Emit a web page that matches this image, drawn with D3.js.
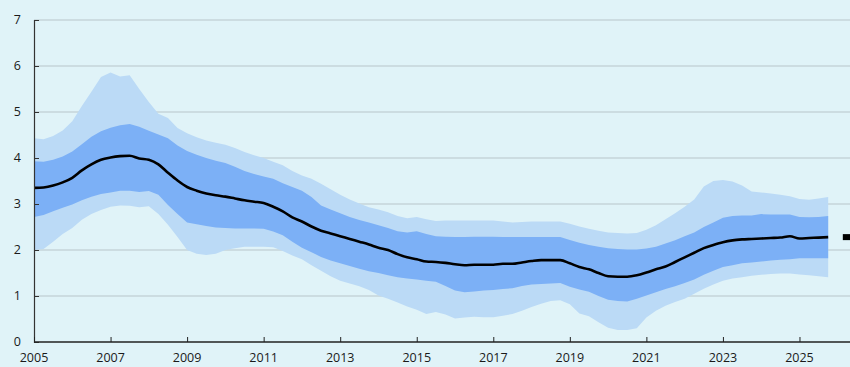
<!DOCTYPE html>
<html>
<head>
<meta charset="utf-8">
<script src="https://cdn.jsdelivr.net/npm/d3@7"></script>
<style>
  html, body { margin: 0; padding: 0; background: #e0f3f8; }
  svg { display: block; }
  text { font-family: "Open Sans", "Liberation Sans", sans-serif; font-size: 12.5px; fill: #1a1a1a; }
</style>
</head>
<body>
<svg id="chart" width="850" height="367"></svg>
<script>
// Quarterly observations, 2005Q1 .. 2025Q4
const years = d3.range(0, 84).map(i => 2005 + i * 0.25);

// Central projection
const median = [
  3.35, 3.36, 3.40, 3.47, 3.57, 3.73, 3.86, 3.96, 4.01, 4.04, 4.05, 3.99,
  3.96, 3.86, 3.68, 3.51, 3.37, 3.29, 3.23, 3.19, 3.16, 3.12, 3.08, 3.05,
  3.02, 2.94, 2.84, 2.71, 2.62, 2.51, 2.42, 2.36, 2.30, 2.24, 2.18, 2.12,
  2.05, 2.00, 1.91, 1.84, 1.80, 1.75, 1.74, 1.72, 1.69, 1.67, 1.68, 1.68,
  1.68, 1.70, 1.70, 1.73, 1.76, 1.78, 1.78, 1.78, 1.71, 1.63, 1.58, 1.50,
  1.43, 1.42, 1.42, 1.45, 1.51, 1.58, 1.64, 1.74, 1.84, 1.94, 2.04, 2.11,
  2.17, 2.21, 2.23, 2.24, 2.25, 2.26, 2.27, 2.30, 2.25, 2.26, 2.27, 2.28
];

// Inner band (darker blue)
const innerHigh = [
  3.93, 3.92, 3.96, 4.03, 4.14, 4.30, 4.46, 4.58, 4.66, 4.71, 4.74, 4.68,
  4.59, 4.51, 4.43, 4.27, 4.15, 4.07, 4.00, 3.94, 3.89, 3.81, 3.72, 3.65,
  3.60, 3.55, 3.45, 3.37, 3.29, 3.15, 2.97, 2.88, 2.80, 2.72, 2.65, 2.60,
  2.54, 2.48, 2.41, 2.38, 2.41, 2.35, 2.30, 2.29, 2.28, 2.28, 2.29, 2.29,
  2.29, 2.28, 2.28, 2.28, 2.28, 2.28, 2.28, 2.28, 2.22, 2.16, 2.11, 2.07,
  2.04, 2.02, 2.01, 2.01, 2.03, 2.07, 2.14, 2.21, 2.30, 2.38, 2.50, 2.60,
  2.70, 2.74, 2.75, 2.75, 2.78, 2.77, 2.77, 2.77, 2.72, 2.71, 2.72, 2.74
];
const innerLow = [
  2.72, 2.76, 2.84, 2.92, 2.99, 3.08, 3.16, 3.22, 3.25, 3.29, 3.29, 3.26,
  3.28, 3.20, 2.98, 2.78, 2.60, 2.56, 2.52, 2.49, 2.48, 2.47, 2.47, 2.47,
  2.46, 2.40, 2.32, 2.18, 2.05, 1.95, 1.85, 1.77, 1.71, 1.65, 1.59, 1.54,
  1.50, 1.45, 1.41, 1.38, 1.36, 1.33, 1.31, 1.22, 1.12, 1.08, 1.10, 1.12,
  1.13, 1.15, 1.17, 1.22, 1.25, 1.26, 1.27, 1.28, 1.20, 1.14, 1.09, 1.00,
  0.92, 0.89, 0.88, 0.94, 1.01, 1.08, 1.15, 1.21, 1.28, 1.36, 1.46, 1.55,
  1.63, 1.67, 1.71, 1.73, 1.75, 1.77, 1.79, 1.80, 1.82, 1.82, 1.82, 1.82
];

// Outer band (lighter blue)
const outerHigh = [
  4.43, 4.41, 4.48, 4.60, 4.80, 5.13, 5.44, 5.76, 5.86, 5.77, 5.80, 5.50,
  5.22, 4.96, 4.87, 4.65, 4.54, 4.45, 4.38, 4.33, 4.29, 4.22, 4.13, 4.06,
  4.00, 3.92, 3.84, 3.72, 3.62, 3.55, 3.44, 3.32, 3.20, 3.10, 3.01, 2.93,
  2.88, 2.82, 2.74, 2.69, 2.72, 2.67, 2.63, 2.64, 2.64, 2.64, 2.64, 2.64,
  2.64, 2.62, 2.60, 2.61, 2.62, 2.62, 2.62, 2.62, 2.57, 2.51, 2.46, 2.42,
  2.38, 2.37, 2.36, 2.37, 2.44, 2.54, 2.67, 2.80, 2.94, 3.10, 3.38, 3.50,
  3.52, 3.49, 3.40, 3.27, 3.25, 3.23, 3.20, 3.17, 3.11, 3.09, 3.12, 3.15
];
const outerLow = [
  2.00, 2.02, 2.18, 2.35, 2.48, 2.66, 2.78, 2.87, 2.94, 2.97, 2.96, 2.93,
  2.95, 2.78, 2.55, 2.28, 2.00, 1.92, 1.89, 1.92, 2.00, 2.04, 2.07, 2.07,
  2.07, 2.06, 1.98, 1.88, 1.80, 1.67, 1.55, 1.43, 1.33, 1.27, 1.21, 1.13,
  1.01, 0.94, 0.86, 0.77, 0.70, 0.61, 0.65, 0.60, 0.51, 0.53, 0.55, 0.54,
  0.54, 0.57, 0.61, 0.68, 0.76, 0.83, 0.89, 0.91, 0.82, 0.62, 0.56, 0.43,
  0.31, 0.26, 0.26, 0.30, 0.53, 0.68, 0.79, 0.87, 0.94, 1.05, 1.16, 1.25,
  1.33, 1.38, 1.41, 1.44, 1.46, 1.48, 1.49, 1.49, 1.47, 1.45, 1.43, 1.41
];

// Single marker beyond the projection horizon
const markerYear = 2026.25;
const markerValue = 2.28;

const yTicks = [0, 1, 2, 3, 4, 5, 6, 7];
const xTicks = [2005, 2007, 2009, 2011, 2013, 2015, 2017, 2019, 2021, 2023, 2025];

const svg = d3.select("#chart");
const W = 850, H = 367;
const margin = { left: 34, right: 0, top: 20, bottom: 25 };

const x = d3.scaleLinear().domain([2005, 2026.32]).range([margin.left, W - margin.right]);
const y = d3.scaleLinear().domain([0, 7]).range([H - margin.bottom, margin.top]);

svg.append("rect").attr("width", W).attr("height", H).attr("fill", "#e0f3f8");

// Horizontal gridlines
svg.append("g")
  .selectAll("line")
  .data(yTicks.filter(d => d > 0))
  .join("line")
  .attr("x1", margin.left).attr("x2", W)
  .attr("y1", d => y(d)).attr("y2", d => y(d))
  .attr("stroke", "#c6d5da").attr("stroke-width", 1.3);

const rows = years.map((t, i) => ({
  t, m: median[i], ih: innerHigh[i], il: innerLow[i], oh: outerHigh[i], ol: outerLow[i]
}));

const band = (lo, hi) => d3.area()
  .x(d => x(d.t))
  .y0(d => y(d[lo]))
  .y1(d => y(d[hi]));

svg.append("path").datum(rows).attr("d", band("ol", "oh")).attr("fill", "#bbdaf6");
svg.append("path").datum(rows).attr("d", band("il", "ih")).attr("fill", "#7cb0f6");

svg.append("path").datum(rows)
  .attr("d", d3.line().x(d => x(d.t)).y(d => y(d.m)).curve(d3.curveMonotoneX))
  .attr("fill", "none").attr("stroke", "#000").attr("stroke-width", 2.6)
  .attr("stroke-linejoin", "round");

svg.append("rect")
  .attr("x", x(markerYear) - 4.5).attr("y", y(markerValue) - 3)
  .attr("width", 9).attr("height", 6).attr("fill", "#000");

// Y axis
const yAxis = svg.append("g").attr("transform", `translate(${margin.left},0)`)
  .call(d3.axisRight(y).tickValues(yTicks).tickSize(5).tickFormat(""));
yAxis.select(".domain").attr("stroke", "#333").attr("stroke-width", 1.2);
yAxis.selectAll(".tick line").attr("stroke", "#333");

svg.append("g")
  .selectAll("text")
  .data(yTicks)
  .join("text")
  .attr("x", 21).attr("y", d => y(d))
  .attr("dy", "0.35em")
  .attr("text-anchor", "end")
  .text(d => d);

// X axis
const xAxis = svg.append("g").attr("transform", `translate(0,${y(0)})`)
  .call(d3.axisTop(x).tickValues(xTicks).tickSize(5).tickFormat(""));
xAxis.select(".domain").attr("stroke", "#222").attr("stroke-width", 1.5)
  .attr("d", `M${margin.left},0H${W}`);
xAxis.selectAll(".tick line").attr("stroke", "#222");

svg.append("g")
  .selectAll("text")
  .data(xTicks)
  .join("text")
  .attr("x", d => x(d)).attr("y", 362)
  .attr("text-anchor", "middle")
  .text(d => d);
</script>
</body>
</html>
